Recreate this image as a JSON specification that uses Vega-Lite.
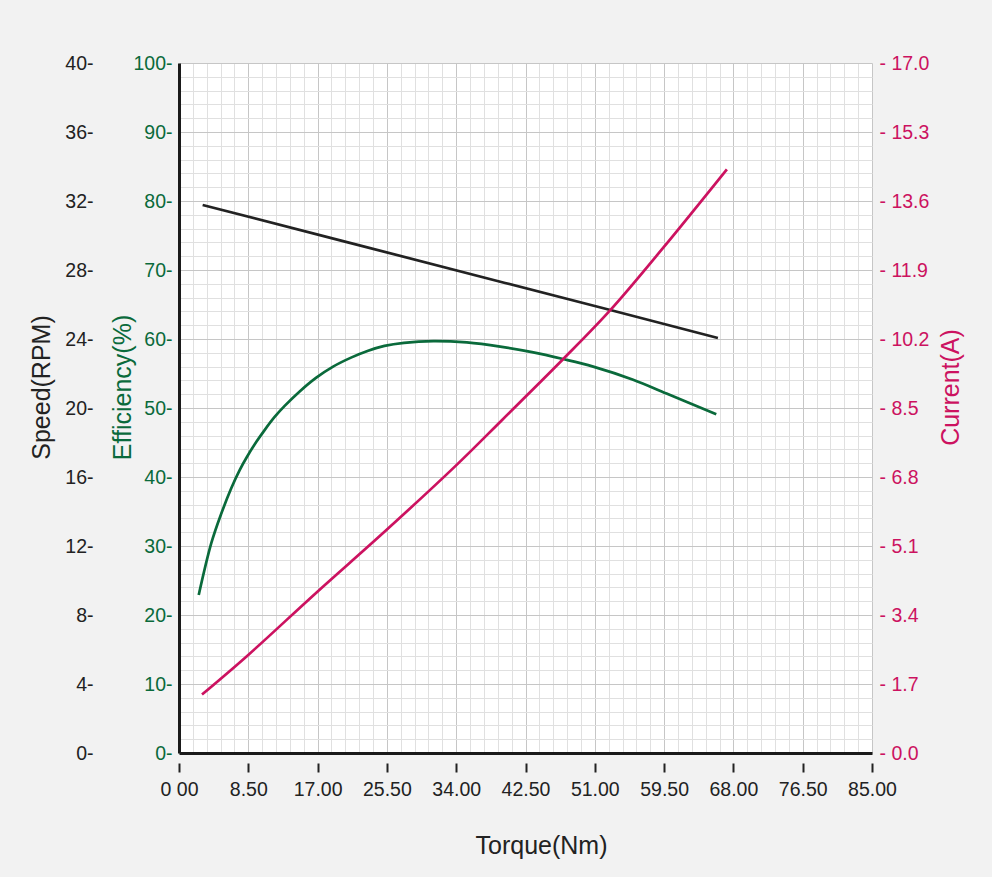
{
  "$schema": "https://vega.github.io/schema/vega-lite/v6.json",
  "width": 693,
  "height": 690,
  "autosize": {"type": "none"},
  "padding": {"left": 179, "top": 63, "right": 120, "bottom": 124},
  "background": "#f2f2f2",
  "config": {
    "view": {"fill": "white", "stroke": null},
    "font": "Liberation Sans",
    "axis": {"labelFont": "Liberation Sans", "titleFont": "Liberation Sans", "titleFontWeight": "normal", "labelFontSize": 19.5, "titleFontSize": 25, "labelOverlap": false, "labelFlush": false}
  },
  "data": {
    "values": [
      {"s": "speed", "t": 2.9, "v": 31.77},
      {"s": "speed", "t": 20, "v": 29.69},
      {"s": "speed", "t": 40, "v": 27.25},
      {"s": "speed", "t": 52.9, "v": 25.68},
      {"s": "speed", "t": 66.1, "v": 24.06},
      {"s": "eff", "t": 2.42, "v": 22.9},
      {"s": "eff", "t": 3.96, "v": 30.4},
      {"s": "eff", "t": 5.19, "v": 34.7},
      {"s": "eff", "t": 6.42, "v": 38.4},
      {"s": "eff", "t": 7.44, "v": 41.0},
      {"s": "eff", "t": 8.38, "v": 43.0},
      {"s": "eff", "t": 9.49, "v": 45.1},
      {"s": "eff", "t": 10.5, "v": 46.8},
      {"s": "eff", "t": 11.73, "v": 48.7},
      {"s": "eff", "t": 12.96, "v": 50.3},
      {"s": "eff", "t": 14.8, "v": 52.4},
      {"s": "eff", "t": 16.84, "v": 54.4},
      {"s": "eff", "t": 18.9, "v": 56.0},
      {"s": "eff", "t": 21.1, "v": 57.3},
      {"s": "eff", "t": 23.2, "v": 58.3},
      {"s": "eff", "t": 25.2, "v": 59.0},
      {"s": "eff", "t": 27.6, "v": 59.45},
      {"s": "eff", "t": 31.2, "v": 59.7},
      {"s": "eff", "t": 35.3, "v": 59.5},
      {"s": "eff", "t": 39.4, "v": 58.9},
      {"s": "eff", "t": 43.3, "v": 58.1},
      {"s": "eff", "t": 47.1, "v": 57.1},
      {"s": "eff", "t": 50.8, "v": 56.0},
      {"s": "eff", "t": 55.7, "v": 54.1},
      {"s": "eff", "t": 59.8, "v": 52.1},
      {"s": "eff", "t": 65.9, "v": 49.1},
      {"s": "cur", "t": 2.82, "v": 1.44},
      {"s": "cur", "t": 8.46, "v": 2.41},
      {"s": "cur", "t": 16.84, "v": 3.95},
      {"s": "cur", "t": 25.2, "v": 5.45},
      {"s": "cur", "t": 33.8, "v": 7.05},
      {"s": "cur", "t": 39.6, "v": 8.2},
      {"s": "cur", "t": 47.1, "v": 9.7},
      {"s": "cur", "t": 52.9, "v": 10.91},
      {"s": "cur", "t": 59.4, "v": 12.45},
      {"s": "cur", "t": 67.2, "v": 14.38}
    ]
  },
  "layer": [
    {
      "transform": [{"filter": "datum.s == 'speed'"}],
      "mark": {"type": "line", "color": "#222222", "strokeWidth": 2.7},
      "encoding": {
        "x": {"field": "t", "type": "quantitative", "scale": {"domain": [0, 85], "nice": false, "zero": false},
          "axis": {"orient": "bottom", "values": [0,1.7,3.4,5.1,6.8,8.5,10.2,11.9,13.6,15.3,17,18.7,20.4,22.1,23.8,25.5,27.2,28.9,30.6,32.3,34,35.7,37.4,39.1,40.8,42.5,44.2,45.9,47.6,49.3,51,52.7,54.4,56.1,57.8,59.5,61.2,62.9,64.6,66.3,68,69.7,71.4,73.1,74.8,76.5,78.2,79.9,81.6,83.3,85],
            "grid": true, "gridColor": {"condition": {"test": "abs(datum.value/8.5 - round(datum.value/8.5)) < 0.001", "value": "#c6c6c6"}, "value": "#e0e0e0"}, "gridWidth": 1,
            "labels": false, "ticks": false, "domain": true, "domainColor": "#1a1a1a", "domainWidth": 3, "title": null}},
        "y": {"field": "v", "type": "quantitative", "scale": {"domain": [0, 40], "nice": false, "zero": false},
          "axis": {"orient": "left", "offset": 80, "values": [0,4,8,12,16,20,24,28,32,36,40], "grid": false, "domain": false, "ticks": false, "tickSize": 0, "labelPadding": 6,
            "labelExpr": "datum.label + '-'", "labelColor": "#222222", "title": "Speed(RPM)", "titleColor": "#222222",
            "titleX": -58, "titleY": 324, "titleAngle": 270, "titleAlign": "center", "titleBaseline": "middle"}}
      }
    },
    {
      "transform": [{"filter": "datum.s == 'eff'"}],
      "mark": {"type": "line", "color": "#0a6a3b", "strokeWidth": 2.7, "interpolate": "catmull-rom"},
      "encoding": {
        "x": {"field": "t", "type": "quantitative", "scale": {"domain": [0, 85], "nice": false, "zero": false},
          "axis": {"orient": "bottom", "offset": 10, "values": [0,8.5,17,25.5,34,42.5,51,59.5,68,76.5,85], "grid": false, "domain": false,
            "ticks": true, "tickSize": 9, "tickWidth": 2, "tickColor": "#222222", "labelPadding": 8,
            "labelExpr": "datum.value == 0 ? '0 00' : format(datum.value, '.2f')", "labelColor": "#222222",
            "title": "Torque(Nm)", "titleColor": "#222222", "titleX": 362, "titleY": 82, "titleAlign": "center", "titleBaseline": "middle"}},
        "y": {"field": "v", "type": "quantitative", "scale": {"domain": [0, 100], "nice": false, "zero": false},
          "axis": {"orient": "left", "values": [0,2,4,6,8,10,12,14,16,18,20,22,24,26,28,30,32,34,36,38,40,42,44,46,48,50,52,54,56,58,60,62,64,66,68,70,72,74,76,78,80,82,84,86,88,90,92,94,96,98,100],
            "grid": true, "gridColor": {"condition": {"test": "datum.value % 10 == 0", "value": "#c6c6c6"}, "value": "#e0e0e0"}, "gridWidth": 1,
            "domain": true, "domainColor": "#1a1a1a", "domainWidth": 3, "ticks": false, "tickSize": 0, "labelPadding": 7,
            "labelExpr": "datum.value % 10 == 0 ? datum.label + '-' : ''", "labelColor": "#0a6a3b",
            "title": "Efficiency(%)", "titleColor": "#0a6a3b", "titleX": -57, "titleY": 324, "titleAngle": 270, "titleAlign": "center", "titleBaseline": "middle"}}
      }
    },
    {
      "transform": [{"filter": "datum.s == 'cur'"}],
      "mark": {"type": "line", "color": "#cc1260", "strokeWidth": 2.7, "interpolate": "catmull-rom"},
      "encoding": {
        "x": {"field": "t", "type": "quantitative", "scale": {"domain": [0, 85], "nice": false, "zero": false}, "axis": null},
        "y": {"field": "v", "type": "quantitative", "scale": {"domain": [0, 17], "nice": false, "zero": false},
          "axis": {"orient": "right", "values": [0,1.7,3.4,5.1,6.8,8.5,10.2,11.9,13.6,15.3,17], "grid": false, "domain": false, "ticks": false, "tickSize": 0, "labelPadding": 7,
            "labelExpr": "'- ' + format(datum.value, '.1f')", "labelColor": "#cc1260",
            "title": "Current(A)", "titleColor": "#cc1260", "titleX": 78, "titleY": 324, "titleAngle": 270, "titleAlign": "center", "titleBaseline": "middle"}}
      }
    }
  ],
  "resolve": {"scale": {"y": "independent"}, "axis": {"x": "independent", "y": "independent"}}
}
